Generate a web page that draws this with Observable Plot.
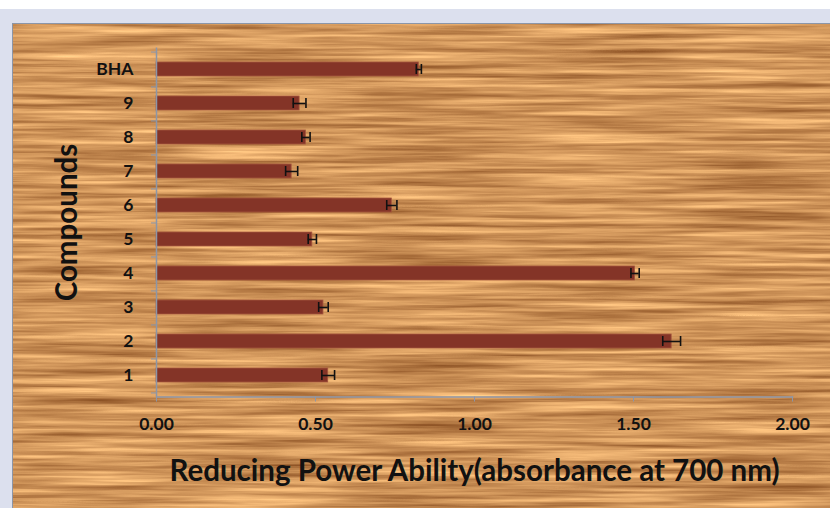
<!DOCTYPE html>
<html>
<head>
<meta charset="utf-8">
<script src="https://cdn.jsdelivr.net/npm/d3@7"></script>
<script src="https://cdn.jsdelivr.net/npm/@observablehq/plot@0.6"></script>
<style>
  html, body { margin: 0; padding: 0; background: #ffffff; }
  #page { position: relative; width: 830px; height: 508px; overflow: hidden; }
  #frame { position: absolute; left: 0; top: 9px; width: 830px; height: 499px; background: #dce0ee; }
  #wood { position: absolute; left: 12px; top: 23px; width: 818px; height: 485px; box-sizing: border-box;
          border-top: 1px solid #8c96a8; border-left: 1px solid #8c96a8; background: #c98d58; overflow: hidden; }
  #grain { position: absolute; left: 0; top: 0; }
  #chart { position: absolute; left: 0; top: 0; }
</style>
</head>
<body>
<div id="page">
  <div id="frame"></div>
  <div id="wood">
    <svg id="grain" width="817" height="484">
      <filter id="woodgrain" x="0" y="0" width="100%" height="100%" color-interpolation-filters="sRGB">
        <feTurbulence type="fractalNoise" baseFrequency="0.006 0.2" numOctaves="4" seed="3"/>
        <feColorMatrix type="matrix" values="0.6 0 0 0 0.51  0.6 0 0 0 0.28  0.48 0 0 0 0.11  0 0 0 0 1"/>
      </filter>
      <rect width="817" height="484" filter="url(#woodgrain)"/>
    </svg>
    <div id="chart"></div>
  </div>
</div>
<script>
const compounds = ["1", "2", "3", "4", "5", "6", "7", "8", "9", "BHA"];
const values = [0.54, 1.62, 0.525, 1.505, 0.49, 0.74, 0.425, 0.47, 0.45, 0.825];
const errors = [0.02, 0.028, 0.015, 0.013, 0.013, 0.016, 0.019, 0.013, 0.02, 0.008];
const xTicks = [0, 0.5, 1, 1.5, 2];
const xTitle = "Reducing Power Ability(absorbance at 700 nm)";
const yTitle = "Compounds";

const data = compounds.map((c, i) => ({compound: c, value: values[i], err: errors[i]}));
const order = compounds.slice().reverse();
const font = "Lato, 'Open Sans', sans-serif";
const axisGray = "#8c96a8";
const plotH = 484, mTop = 23.6, mBottom = 111.5;
const halfStep = (plotH - mTop - mBottom) / compounds.length / 2;

const chart = Plot.plot({
  width: 817,
  height: plotH,
  marginLeft: 143,
  marginRight: 38,
  marginTop: mTop,
  marginBottom: mBottom,
  style: {background: "transparent", fontFamily: font, fontSize: "17.5px", fontWeight: "bold", color: "#111"},
  x: {domain: [0, 2]},
  y: {domain: order, paddingInner: 0.6, paddingOuter: 0.3},
  marks: [
    Plot.barX(data, {y: "compound", x: "value", fill: "#843427", stroke: "#a4553d", strokeWidth: 0.8}),
    Plot.ruleY(data, {y: "compound", x1: d => d.value - d.err, x2: d => d.value + d.err, stroke: "#111", strokeWidth: 1.6}),
    Plot.tickX(data, {y: "compound", x: d => d.value - d.err, stroke: "#111", strokeWidth: 1.6, inset: 2}),
    Plot.tickX(data, {y: "compound", x: d => d.value + d.err, stroke: "#111", strokeWidth: 1.6, inset: 2}),
    Plot.ruleX([0], {stroke: axisGray, strokeWidth: 1.5}),
    Plot.frame({anchor: "bottom", stroke: axisGray, strokeWidth: 1.5}),
    Plot.axisX({ticks: xTicks, tickFormat: d3.format(".2f"), tickSize: 5, tickPadding: 16, stroke: axisGray,
                fill: "#111", label: null}),
    Plot.axisY({tickSize: 0, tickPadding: 23, fill: "#111", label: null}),
    Plot.axisY({ticks: compounds, text: null, tickSize: 5, dy: halfStep, stroke: axisGray, label: null}),
    Plot.axisY({ticks: ["BHA"], text: null, tickSize: 5, dy: -halfStep, stroke: axisGray, label: null}),
    Plot.text([yTitle], {frameAnchor: "left", dx: -89, rotate: -90, textAnchor: "middle", fontSize: 29.5, fontWeight: "bold", fill: "#111", lineAnchor: "middle"}),
    Plot.text([xTitle], {frameAnchor: "bottom", dy: 75, fontSize: 29.5, fontWeight: "bold", fill: "#111", lineAnchor: "middle"})
  ]
});
document.getElementById("chart").appendChild(chart);
</script>
</body>
</html>
